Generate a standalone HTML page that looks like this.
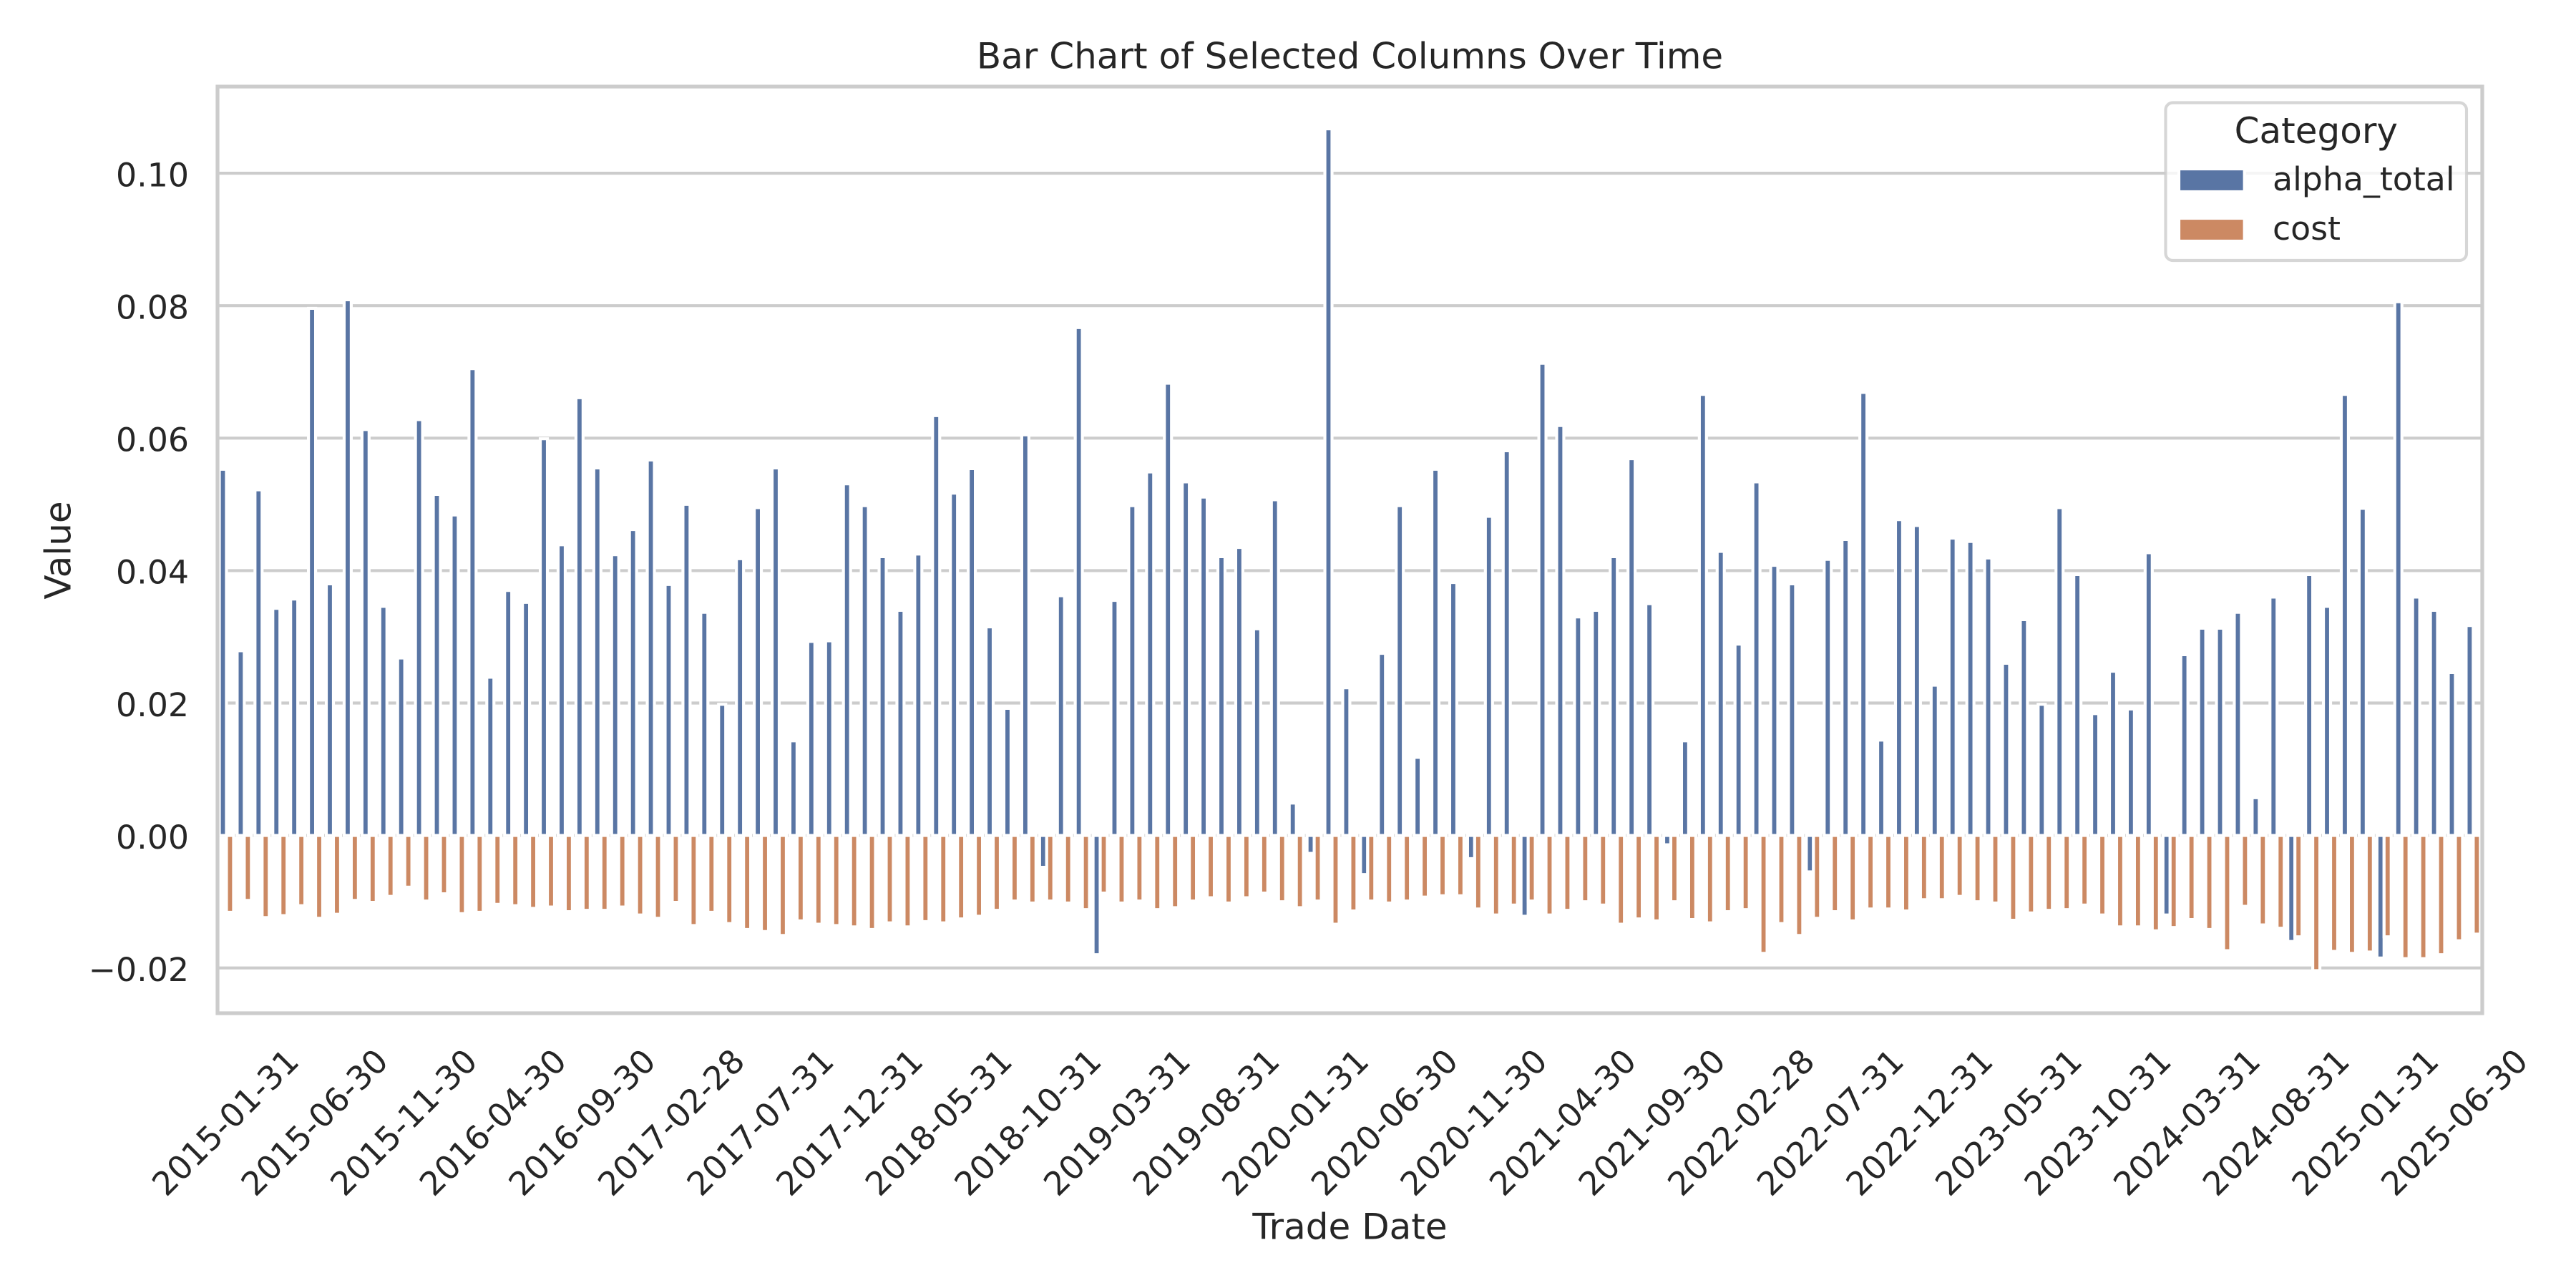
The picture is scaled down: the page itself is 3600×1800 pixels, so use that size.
<!DOCTYPE html>
<html>
<head>
<meta charset="utf-8">
<style>
html,body{margin:0;padding:0;background:#fff;}
svg{display:block;}
text{font-family:"DejaVu Sans","Liberation Sans",sans-serif;fill:#262626;}
.bars rect{vector-effect:non-scaling-stroke;stroke:#fff;stroke-width:4.17px;}
.yt{font-size:45.8px;text-anchor:end;}
.xt{font-size:45.8px;text-anchor:middle;}
</style>
</head>
<body>
<svg width="3600" height="1800" viewBox="0 0 3600 1800" xmlns="http://www.w3.org/2000/svg">
<rect x="0" y="0" width="3600" height="1800" fill="#fff"/>
<!-- gridlines -->
<g stroke="#cccccc" stroke-width="4.17">
<line x1="304" x2="3469" y1="242.1" y2="242.1"/>
<line x1="304" x2="3469" y1="427.2" y2="427.2"/>
<line x1="304" x2="3469" y1="612.3" y2="612.3"/>
<line x1="304" x2="3469" y1="797.4" y2="797.4"/>
<line x1="304" x2="3469" y1="982.5" y2="982.5"/>
<line x1="304" x2="3469" y1="1167.6" y2="1167.6"/>
<line x1="304" x2="3469" y1="1352.7" y2="1352.7"/>
</g>
<!-- bars -->
<g class="bars" transform="translate(316.46,1167.6) scale(24.92,-9255)">
<g transform="translate(-0.4,0)" fill="#5975a4">
<rect x="0" y="0" width=".4" height=".0553"/>
<rect x="1" y="0" width=".4" height=".0279"/>
<rect x="2" y="0" width=".4" height=".0522"/>
<rect x="3" y="0" width=".4" height=".0343"/>
<rect x="4" y="0" width=".4" height=".0357"/>
<rect x="5" y="0" width=".4" height=".0796"/>
<rect x="6" y="0" width=".4" height=".0380"/>
<rect x="7" y="0" width=".4" height=".0809"/>
<rect x="8" y="0" width=".4" height=".0613"/>
<rect x="9" y="0" width=".4" height=".0346"/>
<rect x="10" y="0" width=".4" height=".0268"/>
<rect x="11" y="0" width=".4" height=".0628"/>
<rect x="12" y="0" width=".4" height=".0515"/>
<rect x="13" y="0" width=".4" height=".0484"/>
<rect x="14" y="0" width=".4" height=".0705"/>
<rect x="15" y="0" width=".4" height=".0239"/>
<rect x="16" y="0" width=".4" height=".0370"/>
<rect x="17" y="0" width=".4" height=".0352"/>
<rect x="18" y="0" width=".4" height=".0599"/>
<rect x="19" y="0" width=".4" height=".0439"/>
<rect x="20" y="0" width=".4" height=".0661"/>
<rect x="21" y="0" width=".4" height=".0555"/>
<rect x="22" y="0" width=".4" height=".0424"/>
<rect x="23" y="0" width=".4" height=".0462"/>
<rect x="24" y="0" width=".4" height=".0567"/>
<rect x="25" y="0" width=".4" height=".0379"/>
<rect x="26" y="0" width=".4" height=".0500"/>
<rect x="27" y="0" width=".4" height=".0337"/>
<rect x="28" y="0" width=".4" height=".0198"/>
<rect x="29" y="0" width=".4" height=".0418"/>
<rect x="30" y="0" width=".4" height=".0495"/>
<rect x="31" y="0" width=".4" height=".0555"/>
<rect x="32" y="0" width=".4" height=".0143"/>
<rect x="33" y="0" width=".4" height=".0293"/>
<rect x="34" y="0" width=".4" height=".0294"/>
<rect x="35" y="0" width=".4" height=".0531"/>
<rect x="36" y="0" width=".4" height=".0498"/>
<rect x="37" y="0" width=".4" height=".0421"/>
<rect x="38" y="0" width=".4" height=".0340"/>
<rect x="39" y="0" width=".4" height=".0425"/>
<rect x="40" y="0" width=".4" height=".0634"/>
<rect x="41" y="0" width=".4" height=".0517"/>
<rect x="42" y="0" width=".4" height=".0554"/>
<rect x="43" y="0" width=".4" height=".0315"/>
<rect x="44" y="0" width=".4" height=".0192"/>
<rect x="45" y="0" width=".4" height=".0605"/>
<rect x="46" y="-.0048" width=".4" height=".0048"/>
<rect x="47" y="0" width=".4" height=".0362"/>
<rect x="48" y="0" width=".4" height=".0767"/>
<rect x="49" y="-.0180" width=".4" height=".0180"/>
<rect x="50" y="0" width=".4" height=".0355"/>
<rect x="51" y="0" width=".4" height=".0498"/>
<rect x="52" y="0" width=".4" height=".0549"/>
<rect x="53" y="0" width=".4" height=".0683"/>
<rect x="54" y="0" width=".4" height=".0534"/>
<rect x="55" y="0" width=".4" height=".0511"/>
<rect x="56" y="0" width=".4" height=".0421"/>
<rect x="57" y="0" width=".4" height=".0435"/>
<rect x="58" y="0" width=".4" height=".0312"/>
<rect x="59" y="0" width=".4" height=".0507"/>
<rect x="60" y="0" width=".4" height=".0049"/>
<rect x="61" y="-.0027" width=".4" height=".0027"/>
<rect x="62" y="0" width=".4" height=".1067"/>
<rect x="63" y="0" width=".4" height=".0223"/>
<rect x="64" y="-.0059" width=".4" height=".0059"/>
<rect x="65" y="0" width=".4" height=".0275"/>
<rect x="66" y="0" width=".4" height=".0498"/>
<rect x="67" y="0" width=".4" height=".0118"/>
<rect x="68" y="0" width=".4" height=".0553"/>
<rect x="69" y="0" width=".4" height=".0382"/>
<rect x="70" y="-.0035" width=".4" height=".0035"/>
<rect x="71" y="0" width=".4" height=".0482"/>
<rect x="72" y="0" width=".4" height=".0581"/>
<rect x="73" y="-.0122" width=".4" height=".0122"/>
<rect x="74" y="0" width=".4" height=".0713"/>
<rect x="75" y="0" width=".4" height=".0619"/>
<rect x="76" y="0" width=".4" height=".0330"/>
<rect x="77" y="0" width=".4" height=".0340"/>
<rect x="78" y="0" width=".4" height=".0421"/>
<rect x="79" y="0" width=".4" height=".0569"/>
<rect x="80" y="0" width=".4" height=".0350"/>
<rect x="81" y="-.0014" width=".4" height=".0014"/>
<rect x="82" y="0" width=".4" height=".0143"/>
<rect x="83" y="0" width=".4" height=".0666"/>
<rect x="84" y="0" width=".4" height=".0429"/>
<rect x="85" y="0" width=".4" height=".0289"/>
<rect x="86" y="0" width=".4" height=".0534"/>
<rect x="87" y="0" width=".4" height=".0408"/>
<rect x="88" y="0" width=".4" height=".0380"/>
<rect x="89" y="-.0055" width=".4" height=".0055"/>
<rect x="90" y="0" width=".4" height=".0417"/>
<rect x="91" y="0" width=".4" height=".0447"/>
<rect x="92" y="0" width=".4" height=".0669"/>
<rect x="93" y="0" width=".4" height=".0144"/>
<rect x="94" y="0" width=".4" height=".0477"/>
<rect x="95" y="0" width=".4" height=".0468"/>
<rect x="96" y="0" width=".4" height=".0227"/>
<rect x="97" y="0" width=".4" height=".0449"/>
<rect x="98" y="0" width=".4" height=".0444"/>
<rect x="99" y="0" width=".4" height=".0419"/>
<rect x="100" y="0" width=".4" height=".0260"/>
<rect x="101" y="0" width=".4" height=".0326"/>
<rect x="102" y="0" width=".4" height=".0198"/>
<rect x="103" y="0" width=".4" height=".0495"/>
<rect x="104" y="0" width=".4" height=".0394"/>
<rect x="105" y="0" width=".4" height=".0184"/>
<rect x="106" y="0" width=".4" height=".0248"/>
<rect x="107" y="0" width=".4" height=".0191"/>
<rect x="108" y="0" width=".4" height=".0427"/>
<rect x="109" y="-.0120" width=".4" height=".0120"/>
<rect x="110" y="0" width=".4" height=".0273"/>
<rect x="111" y="0" width=".4" height=".0313"/>
<rect x="112" y="0" width=".4" height=".0313"/>
<rect x="113" y="0" width=".4" height=".0337"/>
<rect x="114" y="0" width=".4" height=".0057"/>
<rect x="115" y="0" width=".4" height=".0360"/>
<rect x="116" y="-.0160" width=".4" height=".0160"/>
<rect x="117" y="0" width=".4" height=".0394"/>
<rect x="118" y="0" width=".4" height=".0346"/>
<rect x="119" y="0" width=".4" height=".0666"/>
<rect x="120" y="0" width=".4" height=".0494"/>
<rect x="121" y="-.0185" width=".4" height=".0185"/>
<rect x="122" y="0" width=".4" height=".0806"/>
<rect x="123" y="0" width=".4" height=".0360"/>
<rect x="124" y="0" width=".4" height=".0340"/>
<rect x="125" y="0" width=".4" height=".0246"/>
<rect x="126" y="0" width=".4" height=".0317"/>
</g>
<g fill="#cc8963">
<rect x="0" y="-.0116" width=".4" height=".0116"/>
<rect x="1" y="-.0098" width=".4" height=".0098"/>
<rect x="2" y="-.0124" width=".4" height=".0124"/>
<rect x="3" y="-.0121" width=".4" height=".0121"/>
<rect x="4" y="-.0106" width=".4" height=".0106"/>
<rect x="5" y="-.0125" width=".4" height=".0125"/>
<rect x="6" y="-.0119" width=".4" height=".0119"/>
<rect x="7" y="-.0098" width=".4" height=".0098"/>
<rect x="8" y="-.0101" width=".4" height=".0101"/>
<rect x="9" y="-.0092" width=".4" height=".0092"/>
<rect x="10" y="-.0078" width=".4" height=".0078"/>
<rect x="11" y="-.0099" width=".4" height=".0099"/>
<rect x="12" y="-.0088" width=".4" height=".0088"/>
<rect x="13" y="-.0118" width=".4" height=".0118"/>
<rect x="14" y="-.0116" width=".4" height=".0116"/>
<rect x="15" y="-.0104" width=".4" height=".0104"/>
<rect x="16" y="-.0106" width=".4" height=".0106"/>
<rect x="17" y="-.0110" width=".4" height=".0110"/>
<rect x="18" y="-.0108" width=".4" height=".0108"/>
<rect x="19" y="-.0115" width=".4" height=".0115"/>
<rect x="20" y="-.0113" width=".4" height=".0113"/>
<rect x="21" y="-.0113" width=".4" height=".0113"/>
<rect x="22" y="-.0108" width=".4" height=".0108"/>
<rect x="23" y="-.0120" width=".4" height=".0120"/>
<rect x="24" y="-.0125" width=".4" height=".0125"/>
<rect x="25" y="-.0101" width=".4" height=".0101"/>
<rect x="26" y="-.0136" width=".4" height=".0136"/>
<rect x="27" y="-.0116" width=".4" height=".0116"/>
<rect x="28" y="-.0133" width=".4" height=".0133"/>
<rect x="29" y="-.0142" width=".4" height=".0142"/>
<rect x="30" y="-.0145" width=".4" height=".0145"/>
<rect x="31" y="-.0151" width=".4" height=".0151"/>
<rect x="32" y="-.0129" width=".4" height=".0129"/>
<rect x="33" y="-.0134" width=".4" height=".0134"/>
<rect x="34" y="-.0136" width=".4" height=".0136"/>
<rect x="35" y="-.0138" width=".4" height=".0138"/>
<rect x="36" y="-.0142" width=".4" height=".0142"/>
<rect x="37" y="-.0132" width=".4" height=".0132"/>
<rect x="38" y="-.0138" width=".4" height=".0138"/>
<rect x="39" y="-.0130" width=".4" height=".0130"/>
<rect x="40" y="-.0132" width=".4" height=".0132"/>
<rect x="41" y="-.0126" width=".4" height=".0126"/>
<rect x="42" y="-.0122" width=".4" height=".0122"/>
<rect x="43" y="-.0113" width=".4" height=".0113"/>
<rect x="44" y="-.0099" width=".4" height=".0099"/>
<rect x="45" y="-.0102" width=".4" height=".0102"/>
<rect x="46" y="-.0099" width=".4" height=".0099"/>
<rect x="47" y="-.0102" width=".4" height=".0102"/>
<rect x="48" y="-.0112" width=".4" height=".0112"/>
<rect x="49" y="-.0087" width=".4" height=".0087"/>
<rect x="50" y="-.0102" width=".4" height=".0102"/>
<rect x="51" y="-.0099" width=".4" height=".0099"/>
<rect x="52" y="-.0112" width=".4" height=".0112"/>
<rect x="53" y="-.0109" width=".4" height=".0109"/>
<rect x="54" y="-.0099" width=".4" height=".0099"/>
<rect x="55" y="-.0094" width=".4" height=".0094"/>
<rect x="56" y="-.0102" width=".4" height=".0102"/>
<rect x="57" y="-.0094" width=".4" height=".0094"/>
<rect x="58" y="-.0087" width=".4" height=".0087"/>
<rect x="59" y="-.0100" width=".4" height=".0100"/>
<rect x="60" y="-.0109" width=".4" height=".0109"/>
<rect x="61" y="-.0099" width=".4" height=".0099"/>
<rect x="62" y="-.0134" width=".4" height=".0134"/>
<rect x="63" y="-.0114" width=".4" height=".0114"/>
<rect x="64" y="-.0099" width=".4" height=".0099"/>
<rect x="65" y="-.0102" width=".4" height=".0102"/>
<rect x="66" y="-.0099" width=".4" height=".0099"/>
<rect x="67" y="-.0093" width=".4" height=".0093"/>
<rect x="68" y="-.0091" width=".4" height=".0091"/>
<rect x="69" y="-.0091" width=".4" height=".0091"/>
<rect x="70" y="-.0111" width=".4" height=".0111"/>
<rect x="71" y="-.0120" width=".4" height=".0120"/>
<rect x="72" y="-.0105" width=".4" height=".0105"/>
<rect x="73" y="-.0099" width=".4" height=".0099"/>
<rect x="74" y="-.0120" width=".4" height=".0120"/>
<rect x="75" y="-.0113" width=".4" height=".0113"/>
<rect x="76" y="-.0100" width=".4" height=".0100"/>
<rect x="77" y="-.0105" width=".4" height=".0105"/>
<rect x="78" y="-.0134" width=".4" height=".0134"/>
<rect x="79" y="-.0126" width=".4" height=".0126"/>
<rect x="80" y="-.0129" width=".4" height=".0129"/>
<rect x="81" y="-.0100" width=".4" height=".0100"/>
<rect x="82" y="-.0127" width=".4" height=".0127"/>
<rect x="83" y="-.0132" width=".4" height=".0132"/>
<rect x="84" y="-.0115" width=".4" height=".0115"/>
<rect x="85" y="-.0112" width=".4" height=".0112"/>
<rect x="86" y="-.0178" width=".4" height=".0178"/>
<rect x="87" y="-.0133" width=".4" height=".0133"/>
<rect x="88" y="-.0151" width=".4" height=".0151"/>
<rect x="89" y="-.0125" width=".4" height=".0125"/>
<rect x="90" y="-.0115" width=".4" height=".0115"/>
<rect x="91" y="-.0129" width=".4" height=".0129"/>
<rect x="92" y="-.0111" width=".4" height=".0111"/>
<rect x="93" y="-.0111" width=".4" height=".0111"/>
<rect x="94" y="-.0114" width=".4" height=".0114"/>
<rect x="95" y="-.0097" width=".4" height=".0097"/>
<rect x="96" y="-.0097" width=".4" height=".0097"/>
<rect x="97" y="-.0092" width=".4" height=".0092"/>
<rect x="98" y="-.0100" width=".4" height=".0100"/>
<rect x="99" y="-.0102" width=".4" height=".0102"/>
<rect x="100" y="-.0128" width=".4" height=".0128"/>
<rect x="101" y="-.0117" width=".4" height=".0117"/>
<rect x="102" y="-.0113" width=".4" height=".0113"/>
<rect x="103" y="-.0112" width=".4" height=".0112"/>
<rect x="104" y="-.0105" width=".4" height=".0105"/>
<rect x="105" y="-.0120" width=".4" height=".0120"/>
<rect x="106" y="-.0138" width=".4" height=".0138"/>
<rect x="107" y="-.0138" width=".4" height=".0138"/>
<rect x="108" y="-.0144" width=".4" height=".0144"/>
<rect x="109" y="-.0139" width=".4" height=".0139"/>
<rect x="110" y="-.0127" width=".4" height=".0127"/>
<rect x="111" y="-.0142" width=".4" height=".0142"/>
<rect x="112" y="-.0174" width=".4" height=".0174"/>
<rect x="113" y="-.0107" width=".4" height=".0107"/>
<rect x="114" y="-.0135" width=".4" height=".0135"/>
<rect x="115" y="-.0140" width=".4" height=".0140"/>
<rect x="116" y="-.0153" width=".4" height=".0153"/>
<rect x="117" y="-.0204" width=".4" height=".0204"/>
<rect x="118" y="-.0175" width=".4" height=".0175"/>
<rect x="119" y="-.0178" width=".4" height=".0178"/>
<rect x="120" y="-.0176" width=".4" height=".0176"/>
<rect x="121" y="-.0153" width=".4" height=".0153"/>
<rect x="122" y="-.0186" width=".4" height=".0186"/>
<rect x="123" y="-.0186" width=".4" height=".0186"/>
<rect x="124" y="-.0180" width=".4" height=".0180"/>
<rect x="125" y="-.0159" width=".4" height=".0159"/>
<rect x="126" y="-.0149" width=".4" height=".0149"/>
</g>
</g>
<!-- spines -->
<rect x="304" y="121" width="3165" height="1295" fill="none" stroke="#cccccc" stroke-width="5.2"/>
<!-- y tick labels -->
<text class="yt" x="264" y="260.4">0.10</text>
<text class="yt" x="264" y="445.5">0.08</text>
<text class="yt" x="264" y="630.6">0.06</text>
<text class="yt" x="264" y="815.7">0.04</text>
<text class="yt" x="264" y="1000.8">0.02</text>
<text class="yt" x="264" y="1185.9">0.00</text>
<text class="yt" x="264" y="1371.0">−0.02</text>
<!-- x tick labels -->
<g class="xt">
<text class="xt" transform="translate(314.5,1568) rotate(-45)" dy="16.7">2015-01-31</text>
<text class="xt" transform="translate(439.1,1568) rotate(-45)" dy="16.7">2015-06-30</text>
<text class="xt" transform="translate(563.7,1568) rotate(-45)" dy="16.7">2015-11-30</text>
<text class="xt" transform="translate(688.3,1568) rotate(-45)" dy="16.7">2016-04-30</text>
<text class="xt" transform="translate(812.9,1568) rotate(-45)" dy="16.7">2016-09-30</text>
<text class="xt" transform="translate(937.5,1568) rotate(-45)" dy="16.7">2017-02-28</text>
<text class="xt" transform="translate(1062.1,1568) rotate(-45)" dy="16.7">2017-07-31</text>
<text class="xt" transform="translate(1186.7,1568) rotate(-45)" dy="16.7">2017-12-31</text>
<text class="xt" transform="translate(1311.3,1568) rotate(-45)" dy="16.7">2018-05-31</text>
<text class="xt" transform="translate(1435.9,1568) rotate(-45)" dy="16.7">2018-10-31</text>
<text class="xt" transform="translate(1560.5,1568) rotate(-45)" dy="16.7">2019-03-31</text>
<text class="xt" transform="translate(1685.1,1568) rotate(-45)" dy="16.7">2019-08-31</text>
<text class="xt" transform="translate(1809.7,1568) rotate(-45)" dy="16.7">2020-01-31</text>
<text class="xt" transform="translate(1934.3,1568) rotate(-45)" dy="16.7">2020-06-30</text>
<text class="xt" transform="translate(2058.9,1568) rotate(-45)" dy="16.7">2020-11-30</text>
<text class="xt" transform="translate(2183.5,1568) rotate(-45)" dy="16.7">2021-04-30</text>
<text class="xt" transform="translate(2308.1,1568) rotate(-45)" dy="16.7">2021-09-30</text>
<text class="xt" transform="translate(2432.7,1568) rotate(-45)" dy="16.7">2022-02-28</text>
<text class="xt" transform="translate(2557.3,1568) rotate(-45)" dy="16.7">2022-07-31</text>
<text class="xt" transform="translate(2681.9,1568) rotate(-45)" dy="16.7">2022-12-31</text>
<text class="xt" transform="translate(2806.5,1568) rotate(-45)" dy="16.7">2023-05-31</text>
<text class="xt" transform="translate(2931.1,1568) rotate(-45)" dy="16.7">2023-10-31</text>
<text class="xt" transform="translate(3055.7,1568) rotate(-45)" dy="16.7">2024-03-31</text>
<text class="xt" transform="translate(3180.3,1568) rotate(-45)" dy="16.7">2024-08-31</text>
<text class="xt" transform="translate(3304.9,1568) rotate(-45)" dy="16.7">2025-01-31</text>
<text class="xt" transform="translate(3429.5,1568) rotate(-45)" dy="16.7">2025-06-30</text>
</g>
<!-- axis labels and title -->
<text x="1886.5" y="95.7" font-size="50" text-anchor="middle">Bar Chart of Selected Columns Over Time</text>
<text x="1886.5" y="1731.7" font-size="50" text-anchor="middle">Trade Date</text>
<text transform="translate(98.5,769) rotate(-90)" font-size="50" text-anchor="middle">Value</text>
<!-- legend -->
<rect x="3026.5" y="143.5" width="420.5" height="220.5" rx="10" ry="10" fill="#ffffff" fill-opacity="0.8" stroke="#cccccc" stroke-opacity="0.8" stroke-width="4.17"/>
<text x="3236.8" y="200" font-size="50" text-anchor="middle">Category</text>
<rect x="3045" y="236" width="91.7" height="32" fill="#5975a4" stroke="#fff" stroke-width="4.17"/>
<rect x="3045" y="305" width="91.7" height="32" fill="#cc8963" stroke="#fff" stroke-width="4.17"/>
<text x="3176" y="266" font-size="45.8">alpha_total</text>
<text x="3176" y="335" font-size="45.8">cost</text>
</svg>
</body>
</html>
